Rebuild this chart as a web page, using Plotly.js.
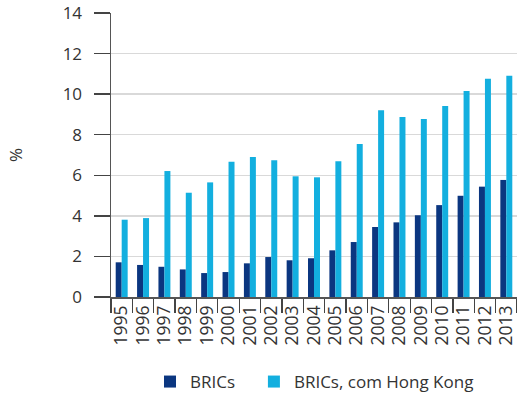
<!DOCTYPE html>
<html>
<head>
<meta charset="utf-8">
<script src="https://cdn.plot.ly/plotly-3.0.1.min.js"></script>
<style>html,body{margin:0;padding:0;background:#fff;}#chart{width:517px;height:400px;}</style>
</head>
<body>
<div id="chart"></div>
<script>
var years = ["1995","1996","1997","1998","1999","2000","2001","2002","2003","2004","2005","2006","2007","2008","2009","2010","2011","2012","2013"];
var brics = [1.71,1.58,1.49,1.36,1.18,1.23,1.66,1.97,1.81,1.91,2.30,2.71,3.45,3.68,4.03,4.53,4.99,5.44,5.77];
var bricsHK = [3.81,3.89,6.21,5.14,5.65,6.67,6.90,6.74,5.95,5.90,6.69,7.54,9.20,8.87,8.77,9.41,10.15,10.76,10.91];
var seriesNames = ["BRICs","BRICs, com Hong Kong"];

var font = "Open Sans, Noto Sans, sans-serif";
var data = [
  {type:"bar", x:years, y:brics, name:seriesNames[0], marker:{color:"#0b3680"}, legend:"legend"},
  {type:"bar", x:years, y:bricsHK, name:seriesNames[1], marker:{color:"#13afdf"}, legend:"legend2"}
];
var legendFont = {family:font, size:17, color:"#333"};
var layout = {
  width:517, height:400,
  margin:{l:111, r:0, t:13, b:103, autoexpand:false},
  paper_bgcolor:"#fff", plot_bgcolor:"#fff",
  barmode:"group", bargap:0.44, bargroupgap:0,
  font:{family:font, size:16, color:"#333"},
  xaxis:{
    type:"category", tickangle:-90, tickson:"boundaries", automargin:false,
    ticks:"outside", ticklen:14, tickcolor:"#444", tickwidth:1.3,
    showline:true, linecolor:"#555", linewidth:1.5,
    showgrid:false, tickfont:{family:font, size:17.5, color:"#333"},
    ticklabelstandoff:0
  },
  yaxis:{
    range:[0,14], dtick:2, ticks:"outside", ticklen:16, tickcolor:"#444", tickwidth:1.3,
    showline:true, linecolor:"#555", linewidth:1.5, automargin:false,
    showgrid:true, gridcolor:"#d9d9d9", gridwidth:1.3, zeroline:false,
    tickfont:{family:font, size:17, color:"#333"},
    ticklabelstandoff:8,
    title:{text:"%", font:{family:font, size:17, color:"#333"}, standoff:35}
  },
  showlegend:true,
  legend:{orientation:"h", x:0.096, xanchor:"left", y:-0.3627, yanchor:"bottom",
    font:legendFont, itemwidth:30, bgcolor:"rgba(0,0,0,0)", borderwidth:0},
  legend2:{orientation:"h", x:0.352, xanchor:"left", y:-0.3627, yanchor:"bottom",
    font:legendFont, itemwidth:30, bgcolor:"rgba(0,0,0,0)", borderwidth:0}
};
Plotly.newPlot("chart", data, layout, {displayModeBar:false, staticPlot:true});
</script>
</body>
</html>
